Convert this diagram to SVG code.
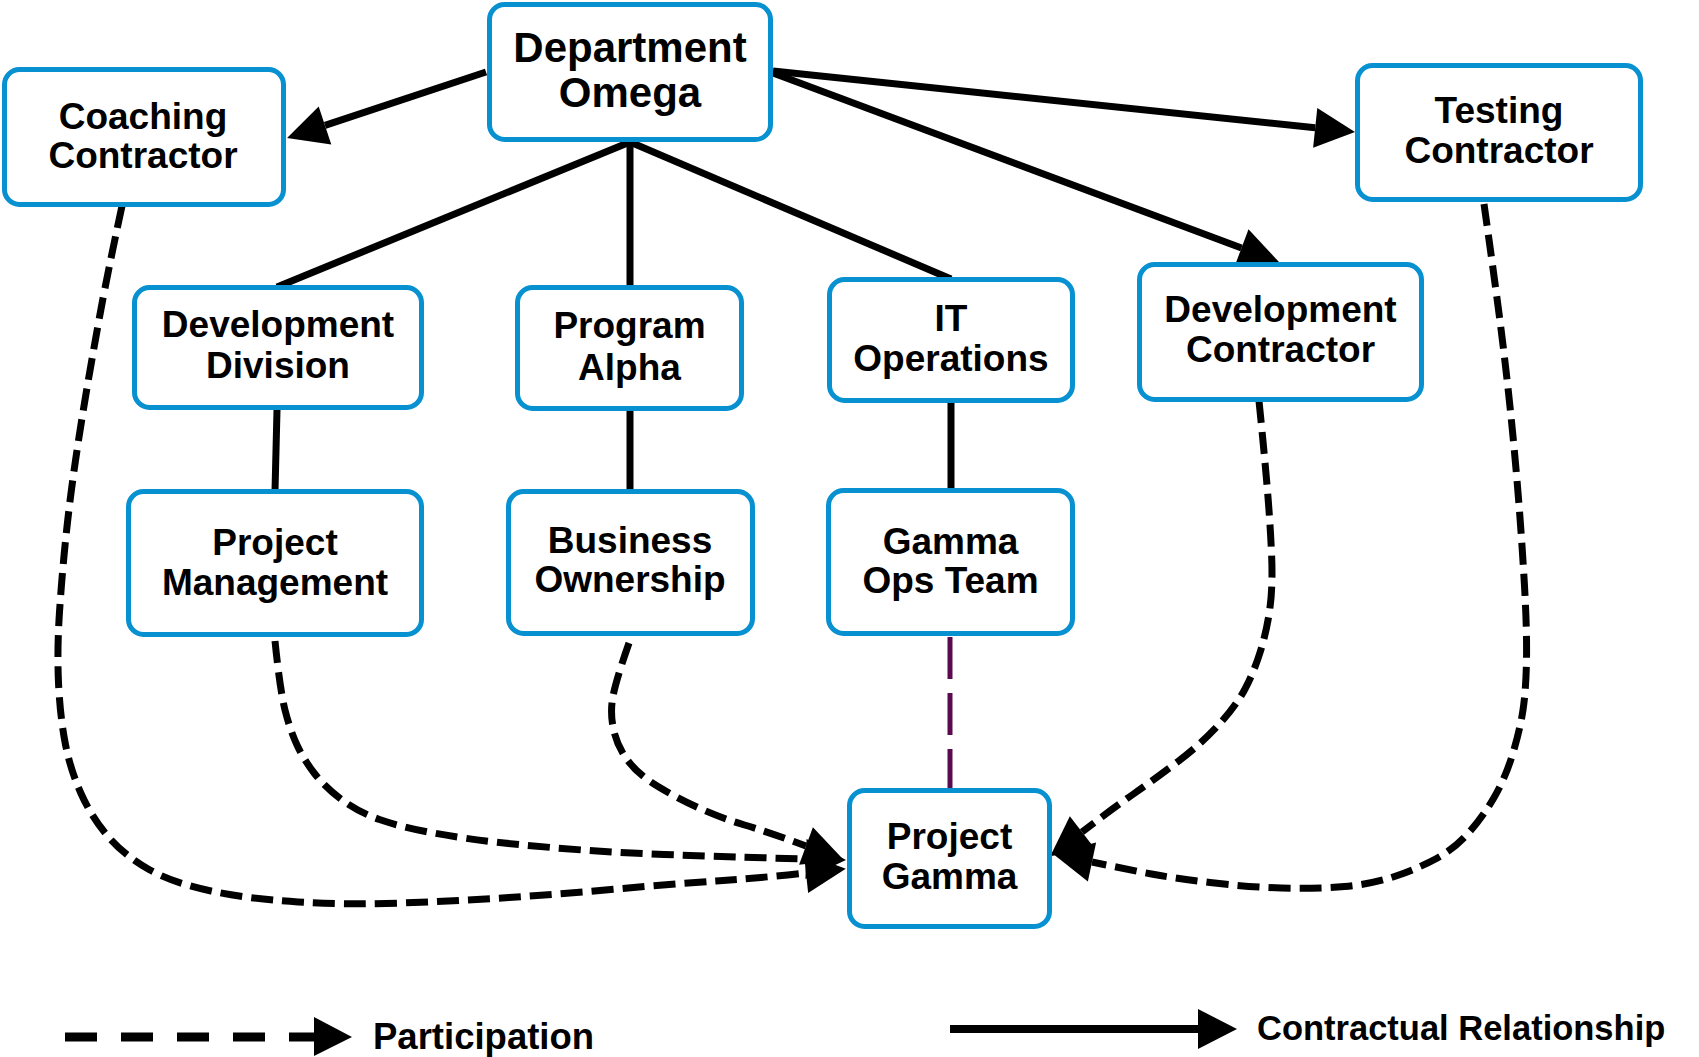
<svg xmlns="http://www.w3.org/2000/svg" width="1699" height="1057" viewBox="0 0 1699 1057">
<style>
.box{fill:#fff;stroke:#0891d1;stroke-width:5}
.t{font-family:"Liberation Sans",Arial,sans-serif;font-weight:bold;font-size:37px;fill:#000;text-anchor:middle}
.big{font-size:42px}
.solid{fill:none;stroke:#000;stroke-width:7}
.dash{fill:none;stroke:#000;stroke-width:7;stroke-dasharray:22 9}
.lg{font-family:"Liberation Sans",Arial,sans-serif;font-weight:bold;fill:#000}
</style>
<defs>
<marker id="ah" markerUnits="userSpaceOnUse" markerWidth="40" markerHeight="40" viewBox="0 0 40 40" refX="0" refY="20" orient="auto" overflow="visible">
<path d="M0,0 L40,20 L0,40 Z" fill="#000" stroke="none"/>
</marker>
</defs>
<rect width="1699" height="1057" fill="#fff"/>
<g id="connectors">
<path class="solid" d="M486,72 L325,125.4" marker-end="url(#ah)"/>
<path class="solid" d="M773,71 L1315.2,127.8" marker-end="url(#ah)"/>
<path class="solid" d="M773,73 L1241.5,248" marker-end="url(#ah)"/>
<path class="solid" d="M630,142 L277,287"/>
<path class="solid" d="M630,142 L630,287"/>
<path class="solid" d="M630,142 L951,279"/>
<path class="solid" d="M277,410 L275,491"/>
<path class="solid" d="M630,411 L630,491"/>
<path class="solid" d="M951,403 L951,490"/>
<path d="M950,637 L950,788" fill="none" stroke="#5b0a4f" stroke-width="5" stroke-dasharray="42 14"/>
<path class="dash" marker-end="url(#ah)" d="M122,206 Q108,271 101,309 Q94,347 87.5,385 Q81,423 75.5,460.5 Q70,498 66,536 Q62,574 59.5,612 Q57,650 58.5,682.5 Q60,715 65,742 Q70,769 81,793.5 Q92,818 108.5,837 Q125,856 149,869.5 Q173,883 211,891 Q249,899 298,902 Q347,905 401,903 Q455,901 509,897.5 Q563,894 617.5,889 Q672,884 716,881 Q760,878 806,873"/>
<path class="dash" marker-end="url(#ah)" d="M275,641 Q280,690 285,710 Q290,730 297,745 Q304,760 314.5,773.5 Q325,787 341.5,799.5 Q358,812 379.5,819.5 Q401,827 433.5,833 Q466,839 504,843 Q542,847 582.5,850 Q623,853 664,854.5 Q705,856 737.5,857 Q770,858 806,859"/>
<path class="dash" marker-end="url(#ah)" d="M629,643 Q615,683 612.5,699 Q610,715 614,731.5 Q618,748 628.5,761.5 Q639,775 658,786.5 Q677,798 699,808 Q721,818 744.5,825 Q768,832 806,846"/>
<path class="dash" marker-end="url(#ah)" d="M1259,401 Q1264,450 1267,485 Q1270,520 1271.5,552.5 Q1273,585 1270,607.5 Q1267,630 1260.5,651 Q1254,672 1245,689 Q1236,706 1218.5,725 Q1201,744 1178,761.5 Q1155,779 1133.5,794 Q1112,809 1082,832"/>
<path class="dash" marker-end="url(#ah)" d="M1484,204 Q1495,282 1500.5,325 Q1506,368 1510.5,411.5 Q1515,455 1518.5,498.5 Q1522,542 1524.5,586 Q1527,630 1526.5,660 Q1526,690 1523,710 Q1520,730 1512.5,754.5 Q1505,779 1493.5,798.5 Q1482,818 1468,833.5 Q1454,849 1436.5,858.5 Q1419,868 1396,876 Q1373,884 1344.5,886.5 Q1316,889 1281.5,888 Q1247,887 1210,882.5 Q1173,878 1151.5,874 Q1130,870 1092,862"/>
</g>
<g id="dept-omega"><rect class="box" x="489.5" y="4.5" width="281" height="135" rx="15"/><text class="t big" x="630" y="62">Department</text><text class="t big" x="630" y="107">Omega</text></g>
<g id="coaching-contractor"><rect class="box" x="4.5" y="69.5" width="279" height="135" rx="15"/><text class="t" x="143" y="129">Coaching</text><text class="t" x="143" y="168">Contractor</text></g>
<g id="testing-contractor"><rect class="box" x="1357.5" y="65.5" width="283" height="134" rx="15"/><text class="t" x="1499" y="123">Testing</text><text class="t" x="1499" y="163">Contractor</text></g>
<g id="development-division"><rect class="box" x="134.5" y="287.5" width="287" height="120" rx="15"/><text class="t" x="278" y="337">Development</text><text class="t" x="278" y="378">Division</text></g>
<g id="program-alpha"><rect class="box" x="517.5" y="287.5" width="224" height="121" rx="15"/><text class="t" x="629.5" y="338">Program</text><text class="t" x="629.5" y="380">Alpha</text></g>
<g id="it-operations"><rect class="box" x="829.5" y="279.5" width="243" height="121" rx="15"/><text class="t" x="951" y="331">IT</text><text class="t" x="951" y="371">Operations</text></g>
<g id="development-contractor"><rect class="box" x="1139.5" y="264.5" width="282" height="135" rx="15"/><text class="t" x="1280.5" y="322">Development</text><text class="t" x="1280.5" y="362">Contractor</text></g>
<g id="project-management"><rect class="box" x="128.5" y="491.5" width="293" height="143" rx="15"/><text class="t" x="275" y="555">Project</text><text class="t" x="275" y="595">Management</text></g>
<g id="business-ownership"><rect class="box" x="508.5" y="491.5" width="244" height="142" rx="15"/><text class="t" x="630" y="553">Business</text><text class="t" x="630" y="592">Ownership</text></g>
<g id="gamma-ops-team"><rect class="box" x="828.5" y="490.5" width="244" height="143" rx="15"/><text class="t" x="950.5" y="554">Gamma</text><text class="t" x="950.5" y="593">Ops Team</text></g>
<g id="project-gamma"><rect class="box" x="849.5" y="790.5" width="200" height="136" rx="15"/><text class="t" x="949.5" y="849">Project</text><text class="t" x="949.5" y="889">Gamma</text></g>
<g id="legend">
<path d="M65,1037 L314,1037" fill="none" stroke="#000" stroke-width="9" stroke-dasharray="32 24"/>
<path d="M314,1017 L352,1037 L314,1056 Z" fill="#000"/>
<text class="lg" x="373" y="1049" font-size="36.5">Participation</text>
<path d="M950,1029 L1198,1029" fill="none" stroke="#000" stroke-width="8"/>
<path d="M1198,1009 L1237,1029 L1198,1049 Z" fill="#000"/>
<text class="lg" x="1257" y="1040" font-size="34.5">Contractual Relationship</text>
</g>
</svg>
